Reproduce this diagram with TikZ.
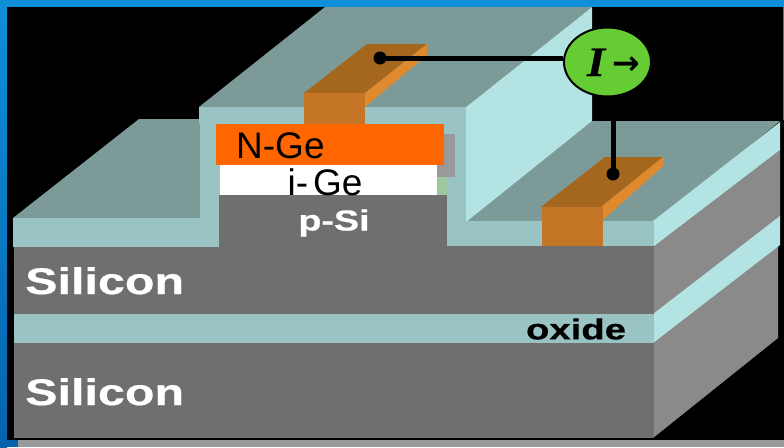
\documentclass[tikz,border=0pt]{standalone}
\usepackage{graphicx}
\usepackage{fontspec}
\usetikzlibrary{shapes.geometric}
\setmainfont{Liberation Sans}
\newfontfamily\serifI[FakeBold=0.6]{Liberation Serif Bold Italic}
\newfontfamily\heavy[FakeBold=0.5]{Liberation Sans Bold}
\newfontfamily\arrowfont{DejaVu Sans Bold}
\definecolor{topface}{HTML}{7C9A98}
\definecolor{frontface}{HTML}{9AC4C4}
\definecolor{sideface}{HTML}{B4E3E3}
\definecolor{sifront}{HTML}{6F6F6F}
\definecolor{siside}{HTML}{8A8A8A}
\definecolor{ctfront}{HTML}{C47525}
\definecolor{cttop}{HTML}{A5661D}
\definecolor{ctside}{HTML}{E08A30}
\definecolor{meter}{HTML}{66CC33}
\definecolor{bluetop}{HTML}{0F8FD8}
\definecolor{bluebot}{HTML}{0563AE}
\definecolor{ngeorange}{HTML}{FF6600}
\definecolor{paleGreen}{HTML}{A0C8A0}
\definecolor{stubgray}{HTML}{999999}
\tikzset{
  face/.style={fill=#1,draw=none},
  wire/.style={draw=black,line width=5pt},
  contactdot/.style={circle,fill=black,inner sep=0pt,minimum size=13pt},
  label/.style={font=\fontsize{37}{37}\selectfont,inner sep=0pt,text=black},
  wide/.style={font=\heavy\fontsize{37}{37}\selectfont,inner sep=0pt,text=white},
  widesmall/.style={font=\heavy\fontsize{29}{29}\selectfont,inner sep=0pt}
}
\begin{document}
\begin{tikzpicture}[x=1pt,y=-1pt]
\useasboundingbox (0,0) rectangle (784,447);
% frame
\fill[black] (0,0) rectangle (784,447);
\shade[top color=bluetop,bottom color=bluebot] (0,0) rectangle (7,447);
\fill[bluetop] (0,0) rectangle (784,7);
\fill[bluebot] (0,440) rectangle (18,447);
\fill[stubgray] (18,440) rectangle (784,447);
\fill[bluetop] (783,7) rectangle (784,120);
% back surfaces
\fill[face=topface] (13,218) -- (139,119) -- (210,119) -- (210,218) -- cycle;
\fill[face=topface] (199,107) -- (325,7) -- (592,7) -- (466,107) -- cycle;
\fill[face=topface] (460,224) -- (592,121) -- (780,121) -- (654,224) -- cycle;
\fill[face=sideface] (466,107) -- (592,7) -- (592,121) -- (466,222) -- cycle;
% right sides
\fill[face=siside] (653,247) -- (780,150) -- (780,218) -- (653,316) -- cycle;
\fill[face=sideface] (653,221) -- (780,122) -- (780,150) -- (653,247) -- cycle;
\fill[face=siside] (653,342) -- (778,245) -- (778,338) -- (653,438) -- cycle;
\fill[face=sideface] (653,314) -- (780,216) -- (780,245) -- (653,343) -- cycle;
% front layers
\fill[face=sifront] (14,246) rectangle (654,438);
\fill[face=frontface] (14,314) rectangle (654,343);
\fill[face=frontface] (13,218) rectangle (219,247);
\fill[face=frontface] (446,221) rectangle (654,246);
\fill[face=frontface] (199,107) rectangle (466,124);
\fill[face=frontface] (200,123) rectangle (447,226);
\fill[face=frontface] (446,123) rectangle (466,222);
% gate stack
\fill[stubgray] (437,134) rectangle (455,177);
\fill[paleGreen] (437,177) rectangle (447,195);
\fill[sifront] (219,195) rectangle (447,247);
\fill[white] (220,165) rectangle (437,195);
\fill[ngeorange] (216,124) rectangle (444,165);
% top contact
\fill[face=cttop] (304,93) -- (367,44) -- (427,44) -- (365,93) -- cycle;
\fill[face=ctside] (365,93) -- (427,44) -- (427,55) -- (365,107) -- cycle;
\fill[face=ctfront] (304,93) rectangle (365,124);
% lower contact
\fill[face=cttop] (541,207) -- (605,157) -- (663,157) -- (601,207) -- cycle;
\fill[face=ctside] (601,207) -- (663,157) -- (663,166) -- (603,220) -- cycle;
\fill[face=ctfront] (542,207) rectangle (603,246);
% labels
\node[label,anchor=base west] (nge) at (236,158) {N-Ge};
\node[label,anchor=base] (ige) at (325,195) {i-\hspace{5pt}Ge};
\node[widesmall,text=white] (psi) at (334,223) {\scalebox{1.3}[1]{p-Si}};
\node[wide,anchor=base west] (si1) at (25,294) {\scalebox{1.31}[1]{Silicon}};
\node[wide,anchor=base west] (si2) at (25,405) {\scalebox{1.31}[1]{Silicon}};
\node[widesmall,text=black] (ox) at (576,329) {\scalebox{1.32}[1]{oxide}};
% meter and wires
\node[contactdot] (d1) at (380,58) {};
\node[contactdot] (d2) at (613,174) {};
\node[ellipse,minimum width=87pt,minimum height=69pt,inner sep=0pt,fill=meter,draw=black,line width=2pt] (m) at (607.5,62) {};
\node[inner sep=0pt,anchor=base,font=\serifI\fontsize{42}{42}\selectfont] (mi) at (596,76) {\scalebox{1.1}[1]{I}};
\node[inner sep=0pt,anchor=base,font=\arrowfont\fontsize{33}{33}\selectfont] (ma) at (626,74) {→};
\draw[wire] (d1.center) -- (d1.center -| m.west);
\draw[wire] (d2.center) -- (d2.center |- m.south);
\end{tikzpicture}
\end{document}
